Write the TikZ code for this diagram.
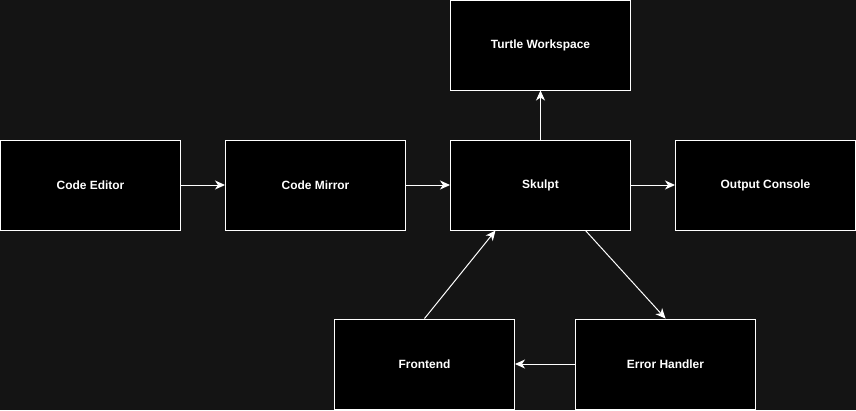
\documentclass[tikz,border=0pt]{standalone}
\usepackage{fontspec}
\setmainfont{Liberation Sans}
\usetikzlibrary{calc}
\usetikzlibrary{arrows.meta}
\definecolor{canvas}{HTML}{141414}
\tikzstyle{block} = [draw=white, rectangle, fill=black, text=white,
                     font=\fontsize{12}{14}\selectfont\bfseries,
                     line width=1bp, minimum width=180bp, minimum height=90bp]
\tikzstyle{link} = [draw=white, line width=1bp,
                    -{Stealth[length=10bp, width=9bp, inset=3bp]}]

\begin{document}
\begin{tikzpicture}[x=1bp, y=-1bp]

% background
\fill[canvas] (0,0) rectangle (856,410);
\useasboundingbox (0,0) rectangle (856,410);

% add nodes
\path     (90.5, 185) node [block] (editor) {Code Editor}
  -- ++(225, 0) node [block] (mirror) {Code Mirror}
  -- ++(225, 0) node [block] (skulpt) {Skulpt}
  -- ++(225, 0) node [block] (console) {Output Console};

\path (540.5, 45) node [block] (turtle) {Turtle Workspace};

\path (424.5, 364) node [block] (frontend) {Frontend}
  -- ++(241, 0) node [block] (handler) {Error Handler};

% add connections
\draw[link] (editor) -- (mirror);
\draw[link] (mirror) -- (skulpt);
\draw[link] (skulpt) -- (console);
\draw[link] (skulpt) -- (turtle);
\draw[link] ($(skulpt.south)+(45,0)$) -- (handler.north);
\draw[link] (handler) -- (frontend);
\draw[link] (frontend.north) -- ($(skulpt.south)+(-45,0)$);

\end{tikzpicture}
\end{document}
